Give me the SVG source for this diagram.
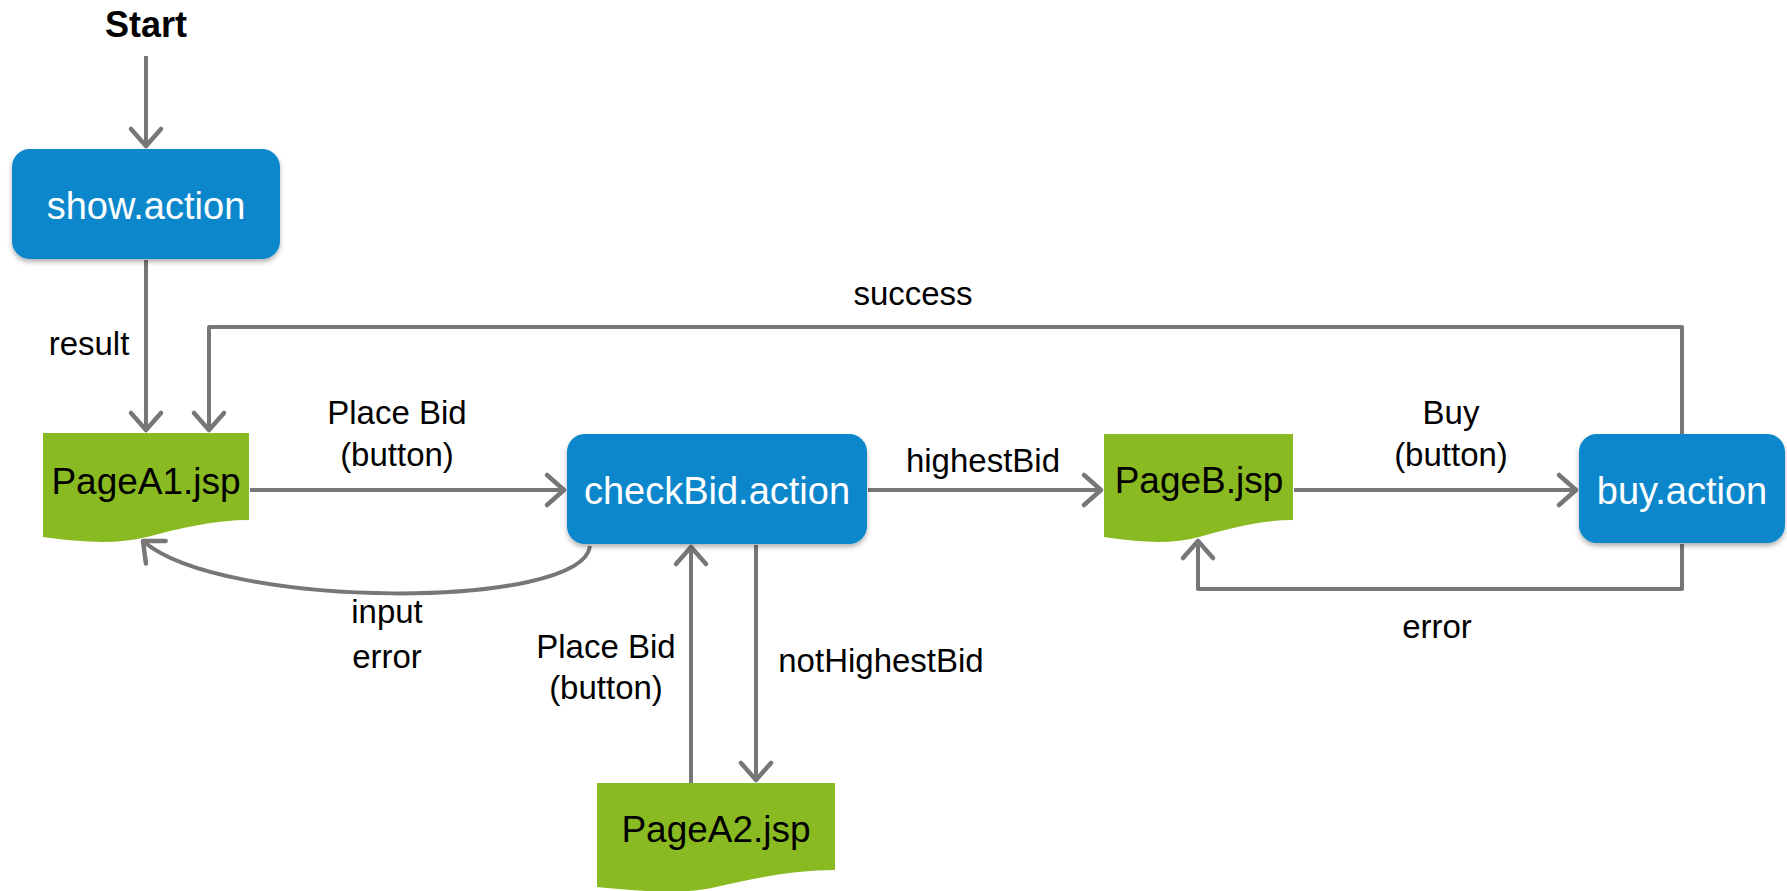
<svg xmlns="http://www.w3.org/2000/svg" width="1787" height="891" viewBox="0 0 1787 891">
  <style>
    .action { fill: #0787cc; filter: url(#shadow); }
    .page { fill: #8aba21; }
    .node-text { font-family: "Liberation Sans", Arial, sans-serif; font-size: 37px; text-anchor: middle; }
    .action-text { fill: #ffffff; font-size: 38px; }
    .page-text { fill: #000000; }
    .edge { fill: none; stroke: #777777; stroke-width: 4; stroke-linejoin: round; marker-end: url(#arrow); }
    .label { font-family: "Liberation Sans", Arial, sans-serif; font-size: 33px; fill: #000000; text-anchor: middle; }
    .title { font-family: "Liberation Sans", Arial, sans-serif; font-size: 36px; font-weight: bold; fill: #000000; text-anchor: middle; }
  </style>
  <defs>
    <marker id="arrow" markerUnits="userSpaceOnUse" markerWidth="40" markerHeight="40" viewBox="-22 -20 26 40" refX="0" refY="0" orient="auto">
      <path d="M -17,-15 L 0,0 L -17,15" fill="none" stroke="#777777" stroke-width="4.5" stroke-linecap="round" stroke-linejoin="round"/>
    </marker>
    <filter id="shadow" x="-10%" y="-10%" width="120%" height="130%">
      <feDropShadow dx="0" dy="3" stdDeviation="2.5" flood-color="#000000" flood-opacity="0.3"/>
    </filter>
  </defs>

  <rect width="1787" height="891" fill="#ffffff"/>

  <text class="title" x="146" y="37">Start</text>

  <!-- connectors -->
  <g id="connectors">
    <path class="edge" d="M146,56 V146"/>
    <path class="edge" d="M146,260 V430"/>
    <path class="edge" d="M1682,434 V327 H209 V430"/>
    <path class="edge" d="M250,490 H564"/>
    <path class="edge" d="M868,490 H1101"/>
    <path class="edge" d="M1294,490 H1576"/>
    <path class="edge" d="M1682,544 V589 H1198 V541"/>
    <path class="edge" d="M590,546 C582,610 222,610 143,541"/>
    <path class="edge" d="M691,783 V547"/>
    <path class="edge" d="M756,545 V780"/>

    <text class="label" x="89" y="355">result</text>
    <text class="label" x="913" y="305">success</text>
    <text class="label" x="397" y="424">Place Bid</text>
    <text class="label" x="397" y="466">(button)</text>
    <text class="label" x="983" y="472">highestBid</text>
    <text class="label" x="1451" y="424">Buy</text>
    <text class="label" x="1451" y="466">(button)</text>
    <text class="label" x="1437" y="638">error</text>
    <text class="label" x="387" y="623">input</text>
    <text class="label" x="387" y="668">error</text>
    <text class="label" x="606" y="658">Place Bid</text>
    <text class="label" x="606" y="699">(button)</text>
    <text class="label" x="881" y="672">notHighestBid</text>
  </g>

  <!-- action nodes -->
  <g id="show-action">
    <rect class="action" x="12" y="149" width="268" height="110" rx="18"/>
    <text class="node-text action-text" x="146" y="219">show.action</text>
  </g>
  <g id="checkBid-action">
    <rect class="action" x="567" y="434" width="300" height="110" rx="18"/>
    <text class="node-text action-text" x="717" y="504">checkBid.action</text>
  </g>
  <g id="buy-action">
    <rect class="action" x="1579" y="434" width="206" height="109" rx="18"/>
    <text class="node-text action-text" x="1682" y="504">buy.action</text>
  </g>

  <!-- page nodes -->
  <g id="pageA1-jsp">
    <path class="page" d="M43,433 H249 V520 C215,520 180,528 147,537 C115,545 80,542 43,537 Z"/>
    <text class="node-text page-text" x="146" y="494">PageA1.jsp</text>
  </g>
  <g id="pageB-jsp">
    <path class="page" d="M1104,434 H1293 V520 C1262,520 1230,528 1199,537 C1170,545 1138,542 1104,537 Z"/>
    <text class="node-text page-text" x="1199" y="493">PageB.jsp</text>
  </g>
  <g id="pageA2-jsp">
    <path class="page" d="M597,783 H835 V870 C795,870 755,878 716,887 C680,895 640,891 597,887 Z"/>
    <text class="node-text page-text" x="716" y="842">PageA2.jsp</text>
  </g>
</svg>
